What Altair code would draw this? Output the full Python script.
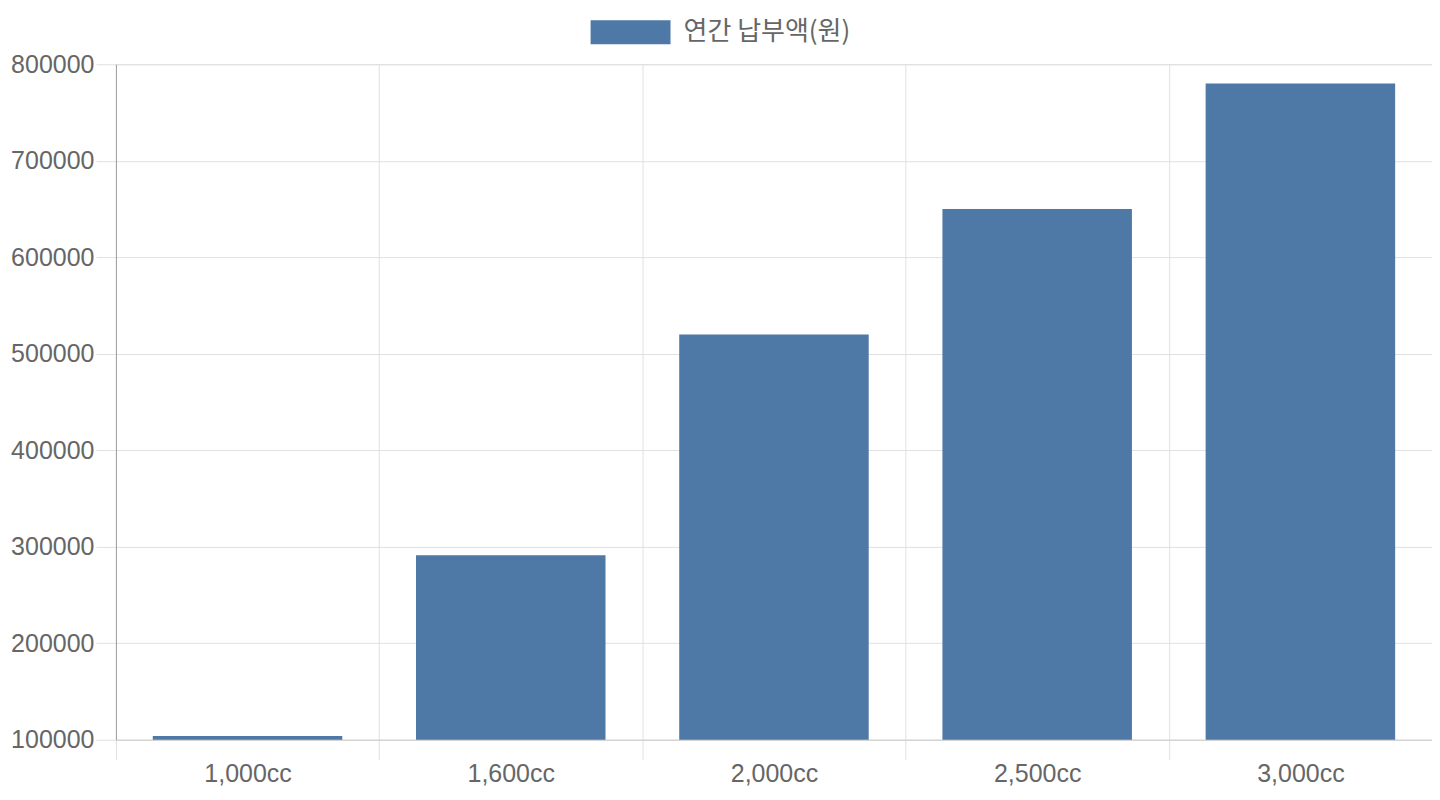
import altair as alt
import pandas as pd

categories = ["1,000cc", "1,600cc", "2,000cc", "2,500cc", "3,000cc"]
values = [104000, 291200, 520000, 650000, 780000]
series_name = "연간 납부액(원)"
y_ticks = [100000, 200000, 300000, 400000, 500000, 600000, 700000, 800000]

df = pd.DataFrame({"cat": categories, "value": values, "series": [series_name] * len(categories)})

FONT = "Liberation Sans"
W, H = 1317, 676

bars = alt.Chart(df).mark_bar(width=alt.RelativeBandSize(0.72), color="#4E79A7").encode(
    x=alt.X("cat:N", sort=categories, title=None,
            scale=alt.Scale(paddingInner=0, paddingOuter=0),
            axis=alt.Axis(labelAngle=0, tickBand="extent", grid=True, gridColor="#e0e0e0",
                          tickColor="#e0e0e0", tickSize=20, domainColor="#cfcfcf",
                          labelFontSize=25, labelFont=FONT, labelColor="#666666",
                          labelPadding=2)),
    y=alt.Y("value:Q", title=None,
            scale=alt.Scale(domain=[100000, 800000], zero=False, nice=False),
            axis=alt.Axis(values=y_ticks, format="d", grid=True, gridColor="#e0e0e0",
                          tickColor="#e0e0e0", tickSize=20, domainColor="#a0a0a0",
                          labelFontSize=25, labelFont=FONT, labelColor="#666666",
                          labelPadding=2)),
    y2=alt.datum(100000),
    fill=alt.Fill("series:N", title=None,
                  scale=alt.Scale(range=["#4E79A7"]),
                  legend=alt.Legend(orient="none", legendX=475, legendY=-72,
                                    symbolType="M-1,-0.3L1,-0.3L1,0.3L-1,0.3Z",
                                    symbolSize=6400, symbolStrokeWidth=0,
                                    labelFontSize=26, labelFont="Noto Sans CJK KR",
                                    labelColor="#666666", labelOffset=13,
                                    labelLimit=400)),
)

chart = bars.properties(
    width=W, height=H,
    autosize=alt.AutoSizeParams(type="none"),
    padding={"left": 108, "top": 56, "right": 0, "bottom": 50},
).configure_view(stroke="#e0e0e0").configure(background="white")

chart.save("out.html", embed_options={"renderer": "svg", "actions": False})
